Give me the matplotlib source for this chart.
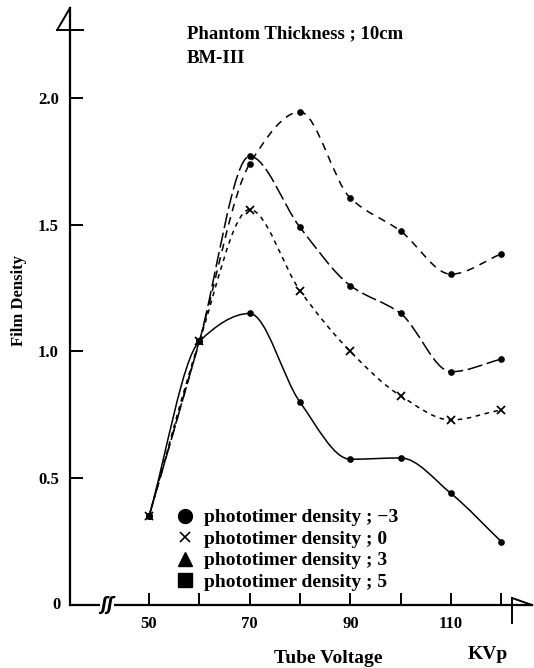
import numpy as np
import matplotlib
matplotlib.use("Agg")
import matplotlib.pyplot as plt
from matplotlib.path import Path
from matplotlib.patches import PathPatch
from matplotlib.lines import Line2D

# data
kvp = [50, 60, 70, 80, 90, 100, 110, 120]
dens_m3 = [0.35, 1.04, 1.15, 0.80, 0.575, 0.58, 0.44, 0.25]
dens_0 = [0.35, 1.04, 1.56, 1.24, 1.00, 0.825, 0.73, 0.77]
dens_3 = [0.35, 1.04, 1.77, 1.49, 1.26, 1.15, 0.92, 0.97]
dens_5 = [0.35, 1.04, 1.74, 1.945, 1.605, 1.475, 1.305, 1.385]
labels = ["phototimer density ; \u22123", "phototimer density ; 0",
          "phototimer density ; 3", "phototimer density ; 5"]
xtick_vals = [50, 60, 70, 80, 90, 100, 110, 120]
xtick_lbls = ["50", "", "70", "", "90", "", "110", ""]
ytick_vals = [0.5, 1.0, 1.5, 2.0]
ytick_lbls = ["0.5", "1.0", "1.5", "2.0"]

plt.rcParams['font.family'] = ['Liberation Serif', 'DejaVu Serif']
plt.rcParams['font.weight'] = 'bold'

fig = plt.figure(figsize=(5.34, 6.68), dpi=100)
ax = fig.add_axes([70/534, 1-605/668, 462/534, 597/668])
ax.set_xlim(34.3, 126.1)
ax.set_ylim(0, 2.355)


def smooth(xs, ys):
    # monotone cubic (pchip-like) curve through the points, as bezier path
    x = np.asarray(xs, float)
    y = np.asarray(ys, float)
    h = np.diff(x)
    dl = np.diff(y) / h
    d = np.zeros_like(y)
    d[0], d[-1] = dl[0], dl[-1]
    for i in range(1, len(x) - 1):
        if dl[i-1] * dl[i] > 0:
            w1 = 2*h[i] + h[i-1]
            w2 = h[i] + 2*h[i-1]
            d[i] = (w1 + w2) / (w1/dl[i-1] + w2/dl[i])
    verts = [(x[0], y[0])]
    codes = [Path.MOVETO]
    for i in range(len(x) - 1):
        t = h[i] / 3
        verts += [(x[i] + t, y[i] + d[i]*t), (x[i+1] - t, y[i+1] - d[i+1]*t),
                  (x[i+1], y[i+1])]
        codes += [Path.CURVE4]*3
    return Path(verts, codes)


styles = [(dens_m3, '-', 'o', 3.5),
          (dens_0, (0, (3, 3)), 'x', 6),
          (dens_3, (0, (10, 3)), 'o', 3.5),
          (dens_5, (0, (5, 4)), 'o', 3.5)]
for ys, ls, mk, ms in styles:
    ax.add_patch(PathPatch(smooth(kvp, ys), fill=False, lw=1.1, ls=ls,
                           ec='k'))
    ax.plot(kvp, ys, ls='none', marker=mk, ms=ms, color='k', mew=1.3)

for s in ['top', 'right']:
    ax.spines[s].set_visible(False)
ax.spines['left'].set_linewidth(1.6)
ax.spines['bottom'].set_linewidth(1.6)

ax.set_xticks(xtick_vals)
ax.set_xticklabels(xtick_lbls)
ax.set_yticks(ytick_vals)
ax.set_yticklabels(ytick_lbls)
ax.tick_params(direction='in', length=9, width=1.4, labelsize=12, pad=8)

# axis end marks
kw = dict(transform=ax.transAxes, clip_on=False, color='k', lw=1.4)
ax.add_line(Line2D([0, -0.028], [1.0, 0.963], **kw))
ax.add_line(Line2D([-0.028, 0.028], [0.963, 0.963], **kw))
ax.add_line(Line2D([0.957, 0.957], [0.0117, -0.03], **kw))
ax.add_line(Line2D([0.957, 1.0], [0.0117, 0.0], **kw))
ax.text(0.08, 0.0, "\u0283\u0283", transform=ax.transAxes, ha='center',
        va='center', fontsize=12, family='DejaVu Sans', style='italic',
        bbox=dict(fc='white', ec='none', pad=0))
ax.text(-0.02, 0.0, "0", transform=ax.transAxes, ha='right', va='center',
        fontsize=12)

handles = [Line2D([], [], ls='none', marker='o', ms=10, color='k'),
           Line2D([], [], ls='none', marker='x', ms=7, mew=1.2, color='k'),
           Line2D([], [], ls='none', marker='^', ms=10, color='k'),
           Line2D([], [], ls='none', marker='s', ms=10, color='k')]
ax.legend(handles, labels, loc='upper left', bbox_to_anchor=(164/534, 1-499/668),
          bbox_transform=fig.transFigure, frameon=False, fontsize=14,
          labelspacing=0.2, handletextpad=0.35, handlelength=1.2, borderpad=0)

fig.text(187/534, 1-38/668, "Phantom Thickness ; 10cm", fontsize=13.5, va='baseline')
fig.text(187/534, 1-63/668, "BM-III", fontsize=13.5, va='baseline')
fig.text(19/534, 1-300/668, "Film Density", rotation=90, fontsize=12,
         ha='center', va='center')
fig.text(328/534, 1-663/668, "Tube Voltage", fontsize=14, ha='center', va='baseline')
fig.text(488/534, 1-659/668, "KVp", fontsize=14, ha='center', va='baseline')

fig.savefig("out.png", dpi=100)
